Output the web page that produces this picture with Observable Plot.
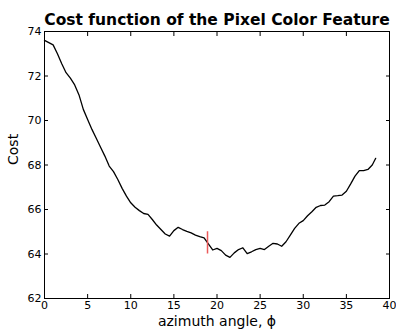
<!DOCTYPE html>
<html>
<head>
<meta charset="utf-8">
<script src="https://cdn.jsdelivr.net/npm/d3@7"></script>
<script src="https://cdn.jsdelivr.net/npm/@observablehq/plot@0.6"></script>
<style>
  html, body { margin: 0; padding: 0; background: #fff; }
  #chart svg { display: block; }
</style>
</head>
<body>
<div id="chart"></div>
<script>
const title = "Cost function of the Pixel Color Feature";
const xLabel = "azimuth angle, \u03D5";
const yLabel = "Cost";
const xTicks = [0, 5, 10, 15, 20, 25, 30, 35, 40];
const yTicks = [62, 64, 66, 68, 70, 72, 74];
const angle = [0, 0.5, 1, 1.5, 2, 2.5, 3, 3.5, 4, 4.5, 5, 5.5, 6, 6.5, 7, 7.5, 8, 8.5, 9, 9.5,
  10, 10.5, 11, 11.5, 12, 12.5, 13, 13.5, 14, 14.5, 15, 15.5, 16, 16.5, 17, 17.5, 18, 18.5, 19, 19.5,
  20, 20.5, 21, 21.5, 22, 22.5, 23, 23.5, 24, 24.5, 25, 25.5, 26, 26.5, 27, 27.5, 28, 28.5, 29, 29.5,
  30, 30.5, 31, 31.5, 32, 32.5, 33, 33.5, 34, 34.5, 35, 35.5, 36, 36.5, 37, 37.5, 38, 38.4];
const cost = [73.6, 73.5, 73.4, 73.0, 72.55, 72.15, 71.9, 71.6, 71.15, 70.5, 70.05, 69.6, 69.2, 68.8, 68.4, 67.95, 67.7, 67.35, 66.95, 66.6,
  66.3, 66.1, 65.95, 65.82, 65.78, 65.55, 65.3, 65.1, 64.9, 64.8, 65.05, 65.2, 65.1, 65.02, 64.95, 64.85, 64.78, 64.72, 64.45, 64.18,
  64.25, 64.15, 63.95, 63.85, 64.05, 64.2, 64.28, 64.02, 64.1, 64.2, 64.25, 64.2, 64.35, 64.48, 64.45, 64.35, 64.55, 64.85, 65.15, 65.38,
  65.5, 65.72, 65.9, 66.1, 66.18, 66.2, 66.35, 66.6, 66.62, 66.65, 66.82, 67.15, 67.5, 67.75, 67.75, 67.8, 68.0, 68.3];
const markerX = [18.9];
const markerY1 = [64.0];
const markerY2 = [65.0];

const data = angle.map((a, i) => ({angle: a, cost: cost[i]}));
const marker = markerX.map((x, i) => ({x, y1: markerY1[i], y2: markerY2[i]}));

const font = "'DejaVu Sans', Verdana, sans-serif";

const chart = Plot.plot({
  width: 396,
  height: 335,
  marginLeft: 44,
  marginRight: 7,
  marginTop: 31,
  marginBottom: 37,
  style: {fontFamily: font, background: "#fff", color: "#000"},
  x: {domain: [0, 40]},
  y: {domain: [62, 74]},
  marks: [
    Plot.axisX({anchor: "bottom", ticks: xTicks, tickSize: -4, tickPadding: 7, fontSize: 11, label: null, stroke: "#000"}),
    Plot.axisX({anchor: "top", ticks: xTicks, tickSize: -4, tickFormat: () => "", label: null, stroke: "#000"}),
    Plot.axisY({anchor: "left", ticks: yTicks, tickSize: -4, tickPadding: 7, fontSize: 11, label: null, stroke: "#000"}),
    Plot.axisY({anchor: "right", ticks: yTicks, tickSize: -4, tickFormat: () => "", label: null, stroke: "#000"}),
    Plot.frame({stroke: "#000", strokeWidth: 1}),
    Plot.lineY(data, {x: "angle", y: "cost", stroke: "#000", strokeWidth: 1.3}),
    Plot.ruleX(marker, {x: "x", y1: "y1", y2: "y2", stroke: "#ec5a5a", strokeWidth: 1.5}),
    Plot.text([title], {frameAnchor: "top", dy: -18, text: d => d, fontSize: 15.5, fontWeight: "bold", fill: "#000"}),
    Plot.text([xLabel], {frameAnchor: "bottom", dy: 27, text: d => d, fontSize: 14, fill: "#000"}),
    Plot.text([yLabel], {frameAnchor: "left", dx: -31, rotate: -90, text: d => d, fontSize: 14, fill: "#000"})
  ]
});
document.getElementById("chart").appendChild(chart);
</script>
</body>
</html>
